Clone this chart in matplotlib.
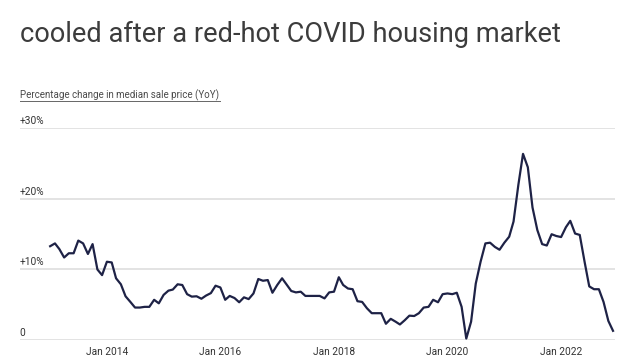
import numpy as np
import pandas as pd
import matplotlib as mpl
mpl.use('Agg')
import matplotlib.pyplot as plt
import matplotlib.dates as mdates

plt.rcParams['font.family'] = ['Roboto', 'DejaVu Sans']

# monthly YoY change in median sale price, Jan 2013 - Dec 2022 (%)
months = pd.date_range('2013-01-01', periods=120, freq='MS')
yoy = [
    13.3, 13.7, 12.9, 11.7, 12.3, 12.3, 14.1, 13.7, 12.2, 13.6, 10.0, 9.2,
    11.1, 11.0, 8.75, 7.9, 6.2, 5.4, 4.6, 4.6, 4.7, 4.7, 5.7, 5.2,
    6.4, 7.0, 7.15, 7.9, 7.8, 6.5, 6.15, 6.2, 5.85, 6.3, 6.65, 7.7,
    7.45, 5.7, 6.25, 5.95, 5.35, 6.05, 5.8, 6.6, 8.65, 8.4, 8.5, 6.7,
    7.8, 8.75, 7.9, 6.95, 6.75, 6.85, 6.25, 6.25, 6.25, 6.25, 5.9, 6.75,
    6.85, 8.9, 7.8, 7.3, 7.2, 5.5, 5.4, 4.5, 3.8, 3.8, 3.8, 2.3,
    3.0, 2.6, 2.2, 2.8, 3.45, 3.4, 3.8, 4.6, 4.7, 5.7, 5.35, 6.5,
    6.6, 6.5, 6.7, 4.7, 0.2, 2.6, 8.0, 11.1, 13.7, 13.8, 13.2, 12.8,
    13.8, 14.65, 16.8, 22.0, 26.4, 24.5, 18.8, 15.6, 13.6, 13.4, 15.0, 14.75,
    14.6, 16.0, 16.9, 15.1, 14.9, 11.1, 7.6, 7.2, 7.2, 5.4, 2.7, 1.3,
]
y_ticks = [0, 10, 20, 30]
y_labels = ['0', '+10%', '+20%', '+30%']
x_ticks = ['2014-01-01', '2016-01-01', '2018-01-01', '2020-01-01', '2022-01-01']

fig = plt.figure(figsize=(6.4, 3.6), dpi=100)
fig.patch.set_facecolor('white')

fig.text(0.031, 0.883, 'cooled after a red-hot COVID housing market',
         fontsize=19.6, color='#3c3c3c', va='baseline', ha='left')
t = fig.text(0.031, 0.727, 'Percentage change in median sale price (YoY)',
             fontsize=7.0, color='#4a4a4a', va='baseline', ha='left')
fig.add_artist(plt.Line2D([0.031, 0.343], [0.719, 0.719], color='#666666', lw=0.7))

ax = fig.add_axes([0.031, 0.0556, 0.930, 0.5875])
ax.plot(months, yoy, color='#1e2246', lw=1.6, clip_on=False, zorder=3)

ax.set_ylim(0, 30)
ax.set_xlim(pd.Timestamp('2012-06-20'), pd.Timestamp('2022-12-14'))
for v in y_ticks:
    ax.axhline(v, color='#dedede', lw=1.2, zorder=1)
ax.set_yticks([])
for v, lab in zip(y_ticks, y_labels):
    ax.text(0, v + 0.35, lab, transform=ax.get_yaxis_transform(), fontsize=7.3,
            color='#333333', ha='left', va='bottom')

ax.set_xticks([pd.Timestamp(d) for d in x_ticks])
ax.xaxis.set_major_formatter(mdates.DateFormatter('Jan %Y'))
ax.tick_params(axis='x', length=0, pad=5, labelsize=7.3, labelcolor='#333333')
for s in ax.spines.values():
    s.set_visible(False)

plt.savefig('out.png', dpi=100, facecolor='white')
